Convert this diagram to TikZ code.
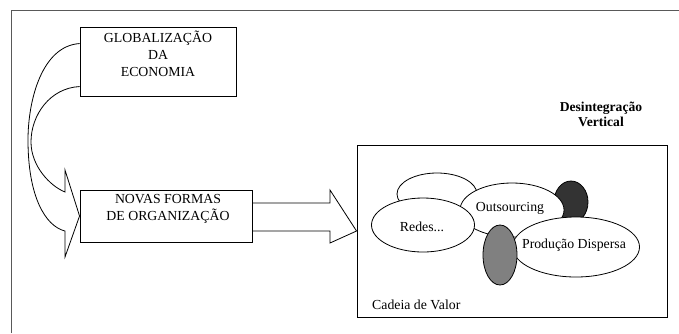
\documentclass[tikz,border=0pt]{standalone}
\usepackage{fontspec}
\setmainfont{Liberation Serif}
\usetikzlibrary{shapes.geometric,calc}
\definecolor{framegray}{gray}{0.35}
\definecolor{darkfill}{HTML}{333333}
\definecolor{midfill}{HTML}{808080}
\tikzset{
  txt/.style={font=\fontsize{13.8}{17}\selectfont, inner sep=0pt, align=center},
  boxnode/.style={draw, line width=0.9pt, inner sep=0pt},
  blob/.style={ellipse, draw, line width=0.8pt, fill=white, inner sep=0pt},
  blockarrow/.style={draw, line width=0.8pt, line join=miter},
}
\begin{document}
\begin{tikzpicture}[x=1pt,y=-1pt]
\useasboundingbox (0,0) rectangle (679,333);

% page frame
\draw[framegray, line width=1pt] (11,333) -- (11,10) -- (679,10);

% boxes
\node[boxnode, minimum width=156pt, minimum height=69pt] (glob) at (158,61.5) {};
\node[txt] (globtxt) at (158,54) {GLOBALIZAÇÃO\\DA\\ECONOMIA};

\node[boxnode, minimum width=172pt, minimum height=52pt] (novas) at (166,216) {};
\node[txt] (novastxt) at (168,208.5) {NOVAS FORMAS\\DE ORGANIZAÇÃO};

\node[boxnode, minimum width=310pt, minimum height=172pt] (cadeia) at (512,231) {};
\node[txt, anchor=west] (cadeiatxt) at (372,305) {Cadeia de Valor};

\node[txt, font=\fontsize{13.6}{15}\selectfont\bfseries] (desint) at (601,114) {Desintegração\\Vertical};

% curved block arrow from the first box into the second
\coordinate (c1) at ($(glob.north west)+(0,17)$);
\coordinate (c2) at ($(glob.north west)+(0,60)$);
\draw[blockarrow]
  (c1) .. controls (42,46) and (28,100) .. (28,140)
       .. controls (28,196) and (45,226) .. (65,231)
  -- (65,257) -- (novas.west) -- (65,170) -- (65,192)
       .. controls (50,186) and (31,166) .. (31,142)
       .. controls (31,115) and (50,88) .. (c2);

% straight block arrow into the value chain
\draw[blockarrow]
  ($(novas.east)+(0,-13)$) -- (330,203) -- (330,190) -- (cadeia.west)
  -- (330,243) -- (330,231) -- ($(novas.east)+(0,15)$);

% overlapping ellipses, back to front
\node[blob, minimum width=80pt, minimum height=42pt] (back) at (437,194) {};
\node[blob, fill=darkfill, minimum width=34pt, minimum height=42pt] (dark) at (571,202) {};
\node[blob, minimum width=104pt, minimum height=54pt] (outs) at (512,210) {};
\node[blob, minimum width=103pt, minimum height=54pt] (redes) at (423,225) {};
\node[blob, minimum width=127pt, minimum height=60pt] (prod) at (576,247) {};
\node[blob, fill=midfill, minimum width=34pt, minimum height=60pt] (gray) at (500,255) {};

\node[txt] (redestxt) at (422,227) {Redes...};
\node[txt] (outstxt) at (510,208) {Outsourcing};
\node[txt] (prodtxt) at (574,245) {Produção Dispersa};
\end{tikzpicture}
\end{document}
